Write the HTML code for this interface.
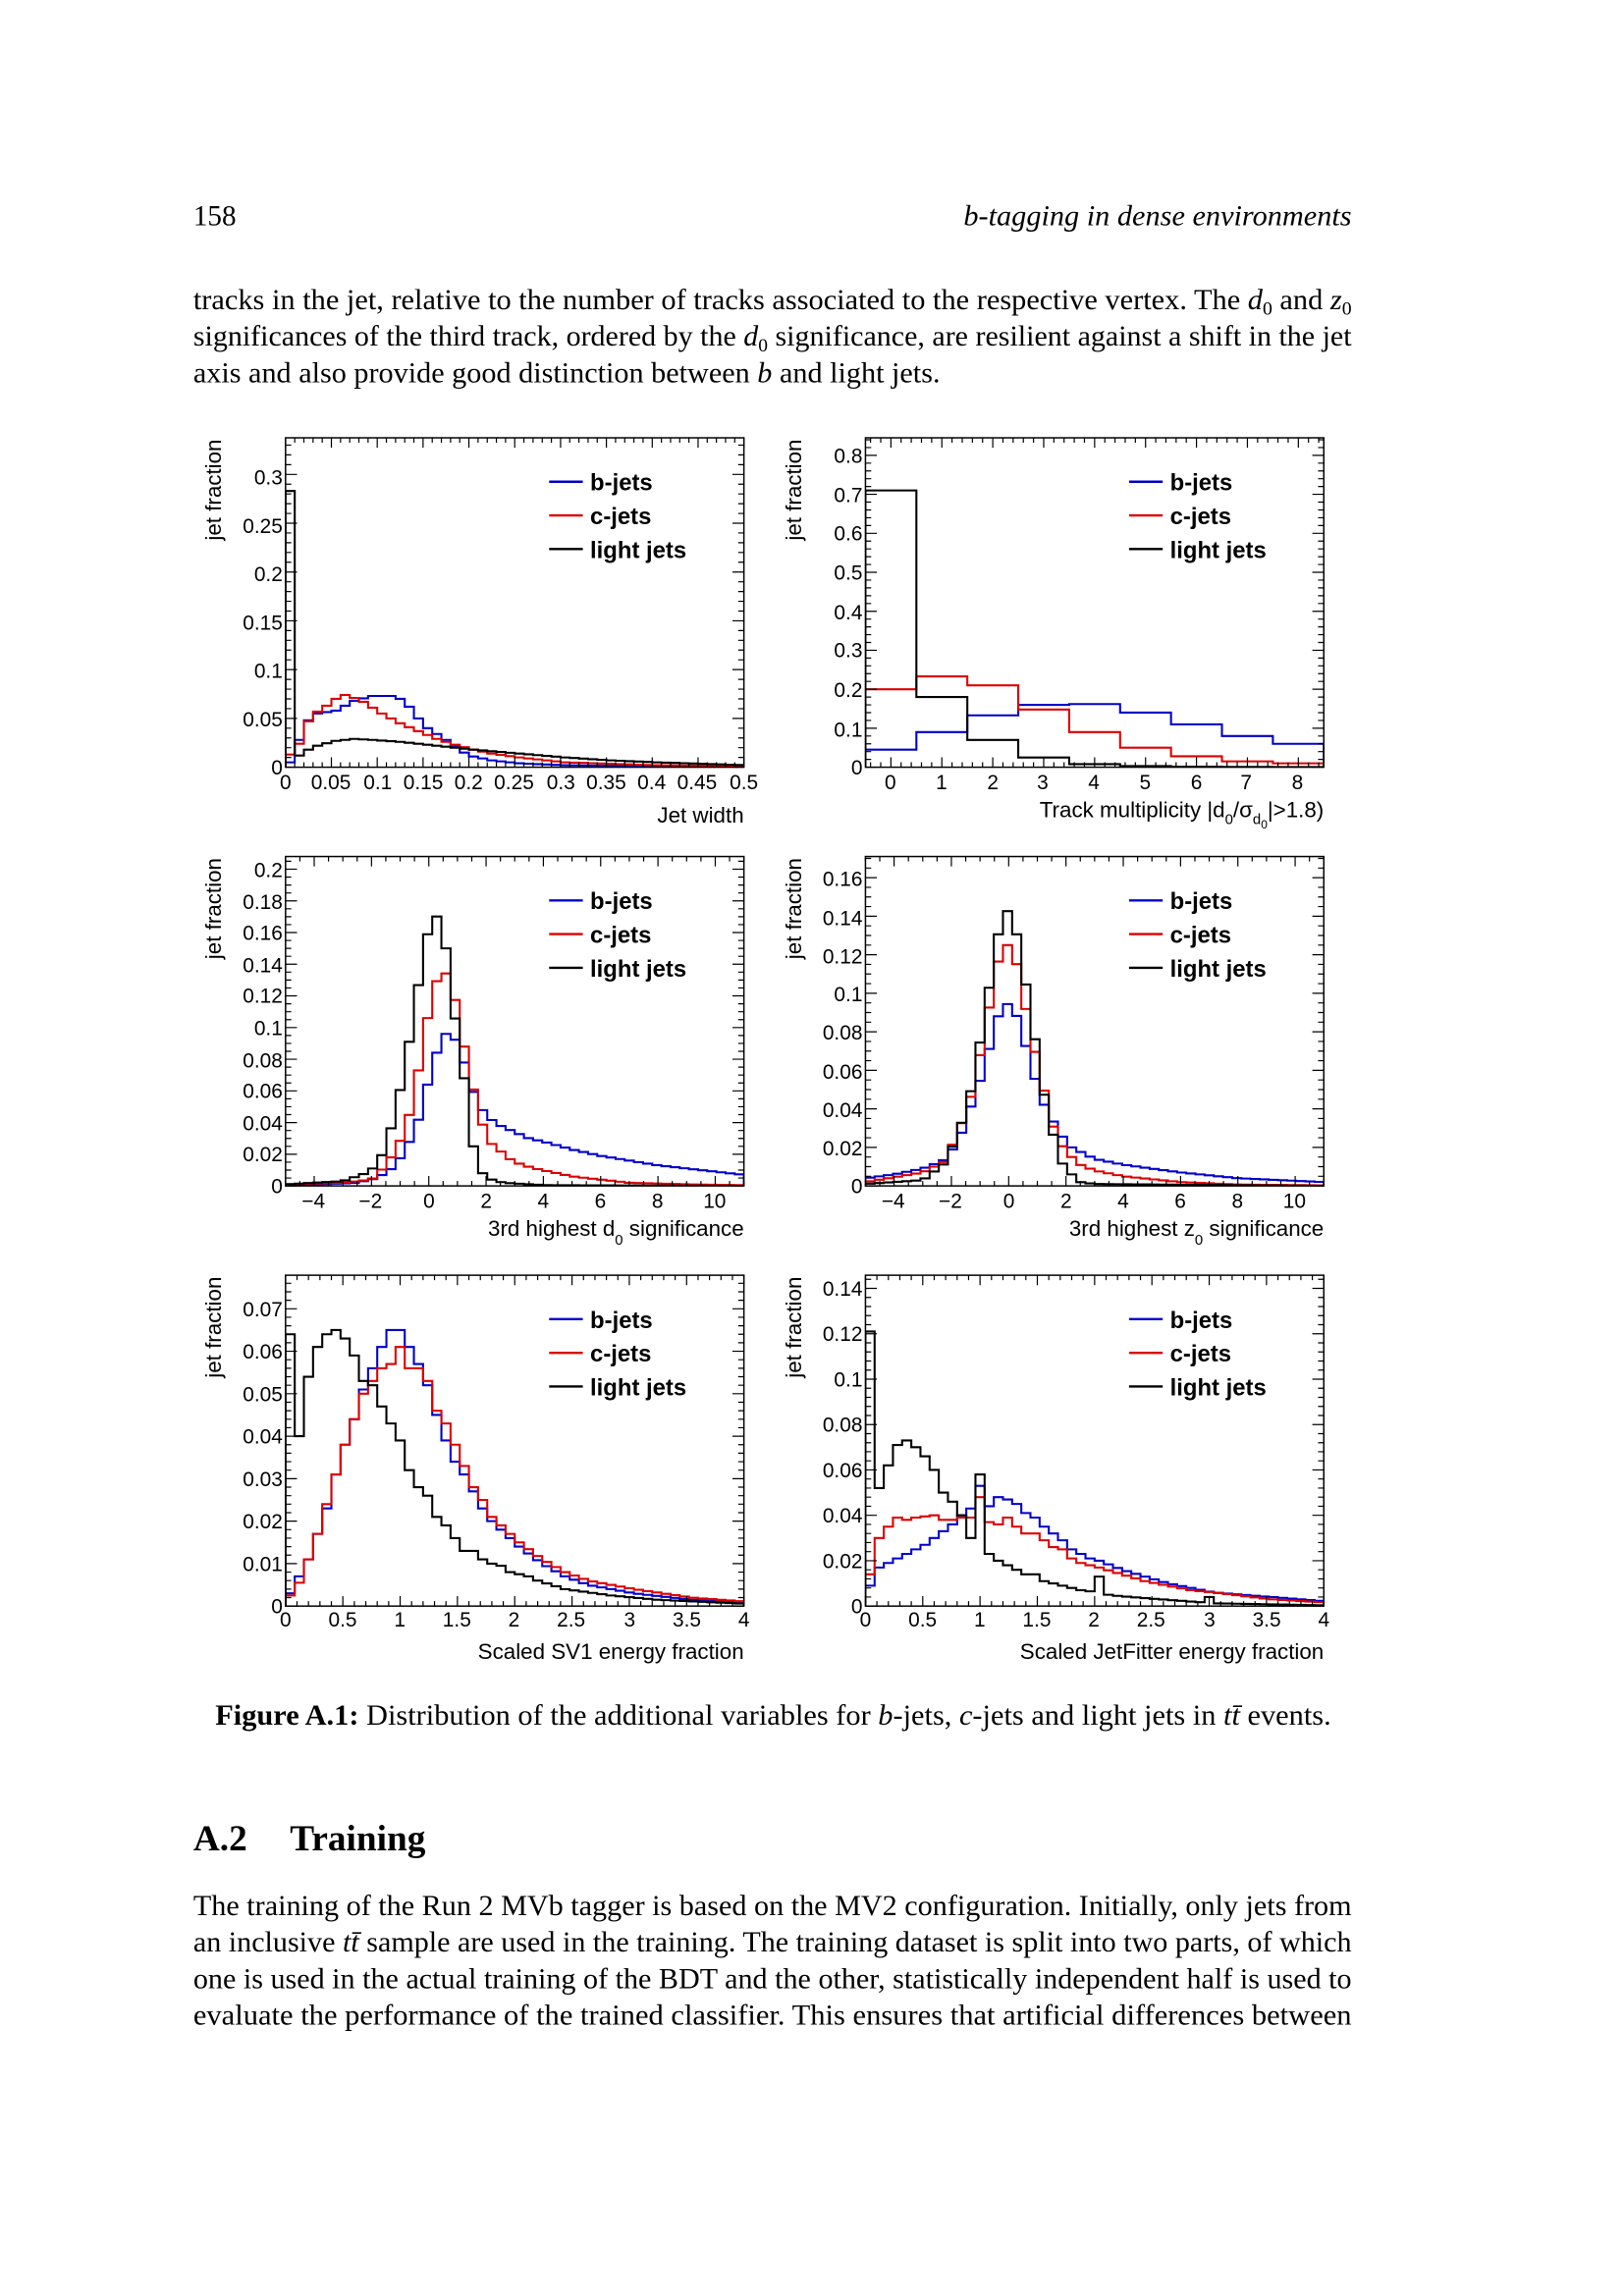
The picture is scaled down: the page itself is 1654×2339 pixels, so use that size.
<!DOCTYPE html>
<html><head><meta charset="utf-8"><style>
html,body{margin:0;padding:0;background:#fff}
svg{display:block}
.s{font-family:"Liberation Serif",serif;fill:#000}
.a{font-family:"Liberation Sans",sans-serif;fill:#000}
</style></head><body>
<svg id="sv" xmlns="http://www.w3.org/2000/svg" width="1654" height="2339" viewBox="0 0 1109 1568.2">
<rect width="1109" height="1568.2" fill="#fff"/>
<text class="s" x="132" y="154" font-size="19.5">158</text>
<text class="s" x="923" y="154" font-size="20" font-style="italic" text-anchor="end" textLength="265" lengthAdjust="spacingAndGlyphs">b-tagging in dense environments</text>
<text class="s" x="132" y="211" font-size="20" textLength="791" lengthAdjust="spacingAndGlyphs">tracks in the jet, relative to the number of tracks associated to the respective vertex. The <tspan font-style="italic">d</tspan><tspan font-size="13" dy="4">0</tspan><tspan dy="-4"> and </tspan><tspan font-style="italic">z</tspan><tspan font-size="13" dy="4">0</tspan></text>
<text class="s" x="132" y="236" font-size="20" textLength="791" lengthAdjust="spacingAndGlyphs">significances of the third track, ordered by the <tspan font-style="italic">d</tspan><tspan font-size="13" dy="4">0</tspan><tspan dy="-4"> significance, are resilient against a shift in the jet</tspan></text>
<text class="s" x="132" y="261" font-size="20" textLength="510" lengthAdjust="spacingAndGlyphs">axis and also provide good distinction between <tspan font-style="italic">b</tspan> and light jets.</text>

<g id="plots"></g>

<g class="a" font-size="15">
<text transform="translate(151,300) rotate(-90)" text-anchor="end">jet fraction</text>
<text transform="translate(547,300) rotate(-90)" text-anchor="end">jet fraction</text>
<text transform="translate(151,586) rotate(-90)" text-anchor="end">jet fraction</text>
<text transform="translate(547,586) rotate(-90)" text-anchor="end">jet fraction</text>
<text transform="translate(151,872) rotate(-90)" text-anchor="end">jet fraction</text>
<text transform="translate(547,872) rotate(-90)" text-anchor="end">jet fraction</text>
<text x="508" y="562" text-anchor="end">Jet width</text>
<text x="904" y="558" text-anchor="end">Track multiplicity |d<tspan font-size="10" dy="5">0</tspan><tspan dy="-5">/σ</tspan><tspan font-size="10" dy="5">d</tspan><tspan font-size="8" dy="3">0</tspan><tspan dy="-8">|&gt;1.8)</tspan></text>
<text x="508" y="844" text-anchor="end">3rd highest d<tspan font-size="10" dy="6">0</tspan><tspan dy="-6"> significance</tspan></text>
<text x="904" y="844" text-anchor="end">3rd highest z<tspan font-size="10" dy="6">0</tspan><tspan dy="-6"> significance</tspan></text>
<text x="508" y="1133" text-anchor="end">Scaled SV1 energy fraction</text>
<text x="904" y="1133" text-anchor="end">Scaled JetFitter energy fraction</text>
</g>
<g class="a" font-size="16" font-weight="bold">
<text x="403" y="335">b-jets</text><text x="403" y="358">c-jets</text><text x="403" y="381">light jets</text>
<text x="799" y="335">b-jets</text><text x="799" y="358">c-jets</text><text x="799" y="381">light jets</text>
<text x="403" y="621">b-jets</text><text x="403" y="644">c-jets</text><text x="403" y="667">light jets</text>
<text x="799" y="621">b-jets</text><text x="799" y="644">c-jets</text><text x="799" y="667">light jets</text>
<text x="403" y="907">b-jets</text><text x="403" y="930">c-jets</text><text x="403" y="953">light jets</text>
<text x="799" y="907">b-jets</text><text x="799" y="930">c-jets</text><text x="799" y="953">light jets</text>
</g>
<g class="a" font-size="14" id="ticklabels">
<g text-anchor="end"><text x="193" y="331">0.3</text><text x="193" y="364">0.25</text><text x="193" y="397">0.2</text><text x="193" y="430">0.15</text><text x="193" y="463">0.1</text><text x="193" y="496">0.05</text><text x="193" y="529">0</text></g>
<g text-anchor="middle"><text x="195" y="539">0</text><text x="226" y="539">0.05</text><text x="258" y="539">0.1</text><text x="289" y="539">0.15</text><text x="320" y="539">0.2</text><text x="351" y="539">0.25</text><text x="383" y="539">0.3</text><text x="414" y="539">0.35</text><text x="445" y="539">0.4</text><text x="476" y="539">0.45</text><text x="508" y="539">0.5</text></g>
<g text-anchor="end"><text x="589" y="316">0.8</text><text x="589" y="343">0.7</text><text x="589" y="369">0.6</text><text x="589" y="396">0.5</text><text x="589" y="423">0.4</text><text x="589" y="449">0.3</text><text x="589" y="476">0.2</text><text x="589" y="503">0.1</text><text x="589" y="529">0</text></g>
<g text-anchor="middle"><text x="608" y="539">0</text><text x="643" y="539">1</text><text x="678" y="539">2</text><text x="712" y="539">3</text><text x="747" y="539">4</text><text x="782" y="539">5</text><text x="817" y="539">6</text><text x="851" y="539">7</text><text x="886" y="539">8</text></g>
<g text-anchor="end"><text x="193" y="599">0.2</text><text x="193" y="621">0.18</text><text x="193" y="642">0.16</text><text x="193" y="664">0.14</text><text x="193" y="685">0.12</text><text x="193" y="707">0.1</text><text x="193" y="729">0.08</text><text x="193" y="750">0.06</text><text x="193" y="772">0.04</text><text x="193" y="793">0.02</text><text x="193" y="815">0</text></g>
<g text-anchor="middle"><text x="214" y="825">−4</text><text x="253" y="825">−2</text><text x="293" y="825">0</text><text x="332" y="825">2</text><text x="371" y="825">4</text><text x="410" y="825">6</text><text x="449" y="825">8</text><text x="488" y="825">10</text></g>
<g text-anchor="end"><text x="589" y="605">0.16</text><text x="589" y="632">0.14</text><text x="589" y="658">0.12</text><text x="589" y="684">0.1</text><text x="589" y="710">0.08</text><text x="589" y="737">0.06</text><text x="589" y="763">0.04</text><text x="589" y="789">0.02</text><text x="589" y="815">0</text></g>
<g text-anchor="middle"><text x="610" y="825">−4</text><text x="649" y="825">−2</text><text x="689" y="825">0</text><text x="728" y="825">2</text><text x="767" y="825">4</text><text x="806" y="825">6</text><text x="845" y="825">8</text><text x="884" y="825">10</text></g>
<g text-anchor="end"><text x="193" y="899">0.07</text><text x="193" y="928">0.06</text><text x="193" y="957">0.05</text><text x="193" y="986">0.04</text><text x="193" y="1015">0.03</text><text x="193" y="1044">0.02</text><text x="193" y="1073">0.01</text><text x="193" y="1102">0</text></g>
<g text-anchor="middle"><text x="195" y="1111">0</text><text x="234" y="1111">0.5</text><text x="273" y="1111">1</text><text x="312" y="1111">1.5</text><text x="351" y="1111">2</text><text x="390" y="1111">2.5</text><text x="430" y="1111">3</text><text x="469" y="1111">3.5</text><text x="508" y="1111">4</text></g>
<g text-anchor="end"><text x="589" y="885">0.14</text><text x="589" y="916">0.12</text><text x="589" y="947">0.1</text><text x="589" y="978">0.08</text><text x="589" y="1009">0.06</text><text x="589" y="1040">0.04</text><text x="589" y="1071">0.02</text><text x="589" y="1102">0</text></g>
<g text-anchor="middle"><text x="591" y="1111">0</text><text x="630" y="1111">0.5</text><text x="669" y="1111">1</text><text x="708" y="1111">1.5</text><text x="747" y="1111">2</text><text x="786" y="1111">2.5</text><text x="826" y="1111">3</text><text x="865" y="1111">3.5</text><text x="904" y="1111">4</text></g>
</g>

<text class="s" x="147" y="1178" font-size="20" textLength="762" lengthAdjust="spacingAndGlyphs"><tspan font-weight="bold">Figure A.1:</tspan> Distribution of the additional variables for <tspan font-style="italic">b</tspan>-jets, <tspan font-style="italic">c</tspan>-jets and light jets in <tspan font-style="italic">tt̄</tspan> events.</text>
<text class="s" x="132" y="1264" font-size="25" font-weight="bold">A.2</text>
<text class="s" x="198" y="1264" font-size="25" font-weight="bold">Training</text>
<text class="s" x="132" y="1308" font-size="20" textLength="791" lengthAdjust="spacingAndGlyphs">The training of the Run 2 MVb tagger is based on the MV2 configuration. Initially, only jets from</text>
<text class="s" x="132" y="1333" font-size="20" textLength="791" lengthAdjust="spacingAndGlyphs">an inclusive <tspan font-style="italic">tt̄</tspan> sample are used in the training. The training dataset is split into two parts, of which</text>
<text class="s" x="132" y="1358" font-size="20" textLength="791" lengthAdjust="spacingAndGlyphs">one is used in the actual training of the BDT and the other, statistically independent half is used to</text>
<text class="s" x="132" y="1383" font-size="20" textLength="791" lengthAdjust="spacingAndGlyphs">evaluate the performance of the trained classifier. This ensures that artificial differences between</text>
</svg>
<script>
(function(){
var NS="http://www.w3.org/2000/svg",G=document.getElementById("plots");
function el(t,a,p){var e=document.createElementNS(NS,t);for(var k in a)e.setAttribute(k,a[k]);(p||G).appendChild(e);return e;}
function interp(pts,x){if(x<=pts[0][0])return pts[0][1];for(var i=1;i<pts.length;i++){if(x<=pts[i][0]){var a=pts[i-1],b=pts[i];return a[1]+(b[1]-a[1])*(x-a[0])/(b[0]-a[0]);}}return pts[pts.length-1][1];}
var cid=0;
function panel(P){
 var x0=P.f[0],x1=P.f[1],y0=P.f[2],y1=P.f[3];
 var X=function(v){return x0+(v-P.xr[0])/(P.xr[1]-P.xr[0])*(x1-x0);};
 var Y=function(v){return y1-(v-P.yr[0])/(P.yr[1]-P.yr[0])*(y1-y0);};
 cid++;var cp=el("clipPath",{id:"c"+cid});el("rect",{x:x0,y:y0,width:x1-x0,height:y1-y0},cp);
 var g=el("g",{"clip-path":"url(#c"+cid+")"});
 P.h.forEach(function(h){
  var d="M"+X(h.e[0])+" "+Y(0);
  for(var i=0;i<h.v.length;i++){d+=" V"+Y(h.v[i]).toFixed(2)+" H"+X(h.e[i+1]).toFixed(2);}
  d+=" V"+Y(0);
  el("path",{d:d,fill:"none",stroke:h.c,"stroke-width":1.4},g);
 });
 el("rect",{x:x0,y:y0,width:x1-x0,height:y1-y0,fill:"none",stroke:"#000","stroke-width":1});
 var d="",L=(y1-y0)*0.03,l=L/2,Lx=(x1-x0)*0.025,lx=Lx/2;
 P.xt.forEach(function(t){var x=X(t[0]),len=t[1]?L:l;d+="M"+x+" "+y1+"v"+(-len)+"M"+x+" "+y0+"v"+len;});
 P.yt.forEach(function(t){var y=Y(t[0]),len=t[1]?Lx:lx;d+="M"+x0+" "+y+"h"+len+"M"+x1+" "+y+"h"+(-len);});
 el("path",{d:d,stroke:"#000","stroke-width":0.8,fill:"none"});
 var lx0=P.f[0]+180;
 [["#0000cc",0],["#dd0000",23],["#000",46]].forEach(function(c){el("line",{x1:lx0,x2:lx0+23,y1:y0+30+c[1],y2:y0+30+c[1],stroke:c[0],"stroke-width":1.6});});
}
function ticks(a,b,maj,nmin){var r=[],s=maj/nmin;var st=Math.ceil(a/s-1e-9)*s;for(var v=st;v<=b+1e-9;v+=s){var m=Math.abs(v/maj-Math.round(v/maj))<1e-6;r.push([v,m]);}return r;}
function bins(a,b,n){var e=[];for(var i=0;i<=n;i++)e.push(a+(b-a)*i/n);return e;}
function mk(pts,e,mode,over){var v=[];for(var i=0;i<e.length-1;i++){var x=mode=="c"?(e[i]+e[i+1])/2:e[i];v.push(interp(pts,x));}if(over)for(var k in over)v[k]=over[k];return v;}

var e1=bins(0,0.5,50);
panel({f:[195,508,299,524],xr:[0,0.5],yr:[0,0.3375],xt:ticks(0,0.5,0.05,5),yt:ticks(0,0.3375,0.05,5),h:[
{c:"#0000cc",e:e1,v:mk([[0,0.005],[0.01,0.028],[0.02,0.048],[0.03,0.055],[0.05,0.058],[0.07,0.068],[0.09,0.073],[0.11,0.073],[0.12,0.07],[0.13,0.062],[0.14,0.05],[0.15,0.04],[0.16,0.034],[0.17,0.028],[0.18,0.022],[0.19,0.015],[0.2,0.011],[0.22,0.007],[0.25,0.004],[0.3,0.002],[0.4,0.001],[0.5,0.0005]],e1)},
{c:"#dd0000",e:e1,v:mk([[0,0.013],[0.01,0.024],[0.02,0.047],[0.03,0.057],[0.04,0.063],[0.05,0.07],[0.06,0.074],[0.07,0.071],[0.08,0.067],[0.09,0.061],[0.1,0.055],[0.11,0.05],[0.12,0.045],[0.13,0.041],[0.14,0.037],[0.15,0.033],[0.16,0.029],[0.18,0.023],[0.2,0.018],[0.22,0.014],[0.25,0.01],[0.3,0.005],[0.4,0.002],[0.5,0.001]],e1)},
{c:"#000",e:e1,v:mk([[0,0.283],[0.01,0.012],[0.02,0.018],[0.03,0.022],[0.05,0.027],[0.07,0.029],[0.09,0.028],[0.12,0.026],[0.15,0.023],[0.2,0.018],[0.25,0.014],[0.3,0.01],[0.35,0.007],[0.4,0.005],[0.45,0.0035],[0.5,0.002]],e1,"s",{1:0.012})}]});
var e2=bins(-0.5,8.5,9);
panel({f:[591,904,299,524],xr:[-0.5,8.5],yr:[0,0.845],xt:ticks(-0.5,8.5,1,5),yt:ticks(0,0.845,0.1,5),h:[
{c:"#0000cc",e:e2,v:[0.045,0.09,0.133,0.16,0.162,0.14,0.11,0.08,0.06]},
{c:"#dd0000",e:e2,v:[0.2,0.233,0.21,0.148,0.09,0.05,0.028,0.015,0.01]},
{c:"#000",e:e2,v:[0.71,0.18,0.07,0.025,0.008,0.003,0.0015,0.0008,0.0004]}]});
var e3=bins(-5,11,50);
panel({f:[195,508,585,810],xr:[-5,11],yr:[0,0.208],xt:ticks(-5,11,2,4),yt:ticks(0,0.208,0.02,4),h:[
{c:"#0000cc",e:e3,v:mk([[-5,0],[-2.5,0.002],[-1.8,0.005],[-1.2,0.012],[-0.8,0.023],[-0.4,0.039],[-0.1,0.06],[0.25,0.083],[0.6,0.096],[0.95,0.092],[1.3,0.075],[1.6,0.057],[2,0.044],[2.5,0.038],[3,0.034],[3.5,0.03],[4,0.028],[5,0.023],[6,0.019],[7,0.016],[8,0.013],[9,0.011],[10,0.009],[11,0.007]],e3,"c")},
{c:"#dd0000",e:e3,v:mk([[-5,0.001],[-3,0.002],[-2,0.004],[-1.6,0.011],[-1.2,0.021],[-0.8,0.036],[-0.5,0.058],[-0.2,0.09],[0.1,0.12],[0.45,0.138],[0.8,0.129],[1.1,0.1],[1.45,0.07],[1.75,0.045],[2.1,0.028],[2.5,0.022],[2.9,0.016],[3.3,0.013],[3.7,0.011],[5,0.006],[7,0.002],[9,0.001],[11,0.0005]],e3,"c")},
{c:"#000",e:e3,v:mk([[-5,0.001],[-3,0.003],[-2.2,0.008],[-1.8,0.013],[-1.5,0.025],[-1.2,0.044],[-0.85,0.073],[-0.5,0.11],[-0.15,0.152],[0.2,0.174],[0.55,0.157],[0.9,0.108],[1.2,0.074],[1.5,0.029],[1.8,0.009],[2.2,0.004],[2.6,0.002],[4,0.0005],[11,0]],e3,"c")}]});
panel({f:[591,904,585,810],xr:[-5,11],yr:[0,0.171],xt:ticks(-5,11,2,4),yt:ticks(0,0.171,0.02,4),h:[
{c:"#0000cc",e:e3,v:mk([[-5,0.004],[-4,0.006],[-3,0.009],[-2.3,0.013],[-2,0.018],[-1.7,0.025],[-1.4,0.038],[-1.05,0.052],[-0.7,0.07],[-0.4,0.087],[-0.1,0.095],[0.2,0.092],[0.5,0.078],[0.8,0.062],[1.1,0.046],[1.5,0.035],[1.8,0.027],[2.2,0.02],[2.6,0.017],[3,0.014],[4,0.011],[6,0.007],[8,0.004],[11,0.002]],e3,"c")},
{c:"#dd0000",e:e3,v:mk([[-5,0.002],[-3,0.007],[-2.2,0.013],[-1.8,0.027],[-1.4,0.041],[-1.05,0.064],[-0.7,0.091],[-0.4,0.115],[-0.1,0.126],[0.2,0.121],[0.5,0.099],[0.85,0.074],[1.2,0.052],[1.5,0.033],[1.8,0.022],[2.2,0.015],[2.5,0.011],[3,0.008],[4,0.005],[6,0.002],[8,0.0007],[11,0.0003]],e3,"c")},
{c:"#000",e:e3,v:mk([[-5,0.001],[-3,0.003],[-2.2,0.012],[-1.8,0.026],[-1.4,0.043],[-1.05,0.07],[-0.7,0.101],[-0.4,0.129],[-0.05,0.143],[0.25,0.133],[0.55,0.109],[0.9,0.078],[1.2,0.05],[1.5,0.03],[1.8,0.013],[2.2,0.006],[2.5,0.002],[3,0.001],[11,0]],e3,"c")}]});
var e5=bins(0,4,50);
panel({f:[195,508,871,1097],xr:[0,4],yr:[0,0.0779],xt:ticks(0,4,0.5,5),yt:ticks(0,0.0779,0.01,5),h:[
{c:"#0000cc",e:e5,v:mk([[0,0.003],[0.08,0.007],[0.16,0.011],[0.24,0.017],[0.32,0.023],[0.4,0.031],[0.48,0.038],[0.56,0.044],[0.64,0.051],[0.72,0.056],[0.8,0.061],[0.88,0.065],[0.96,0.065],[1.04,0.061],[1.12,0.057],[1.2,0.052],[1.28,0.045],[1.36,0.039],[1.44,0.034],[1.52,0.031],[1.6,0.027],[1.68,0.023],[1.76,0.02],[1.84,0.018],[1.92,0.016],[2,0.014],[2.2,0.01],[2.4,0.007],[2.6,0.005],[3,0.003],[3.5,0.0015],[4,0.0007]],e5)},
{c:"#dd0000",e:e5,v:mk([[0,0.0025],[0.08,0.0055],[0.16,0.011],[0.24,0.017],[0.32,0.024],[0.4,0.031],[0.48,0.038],[0.56,0.044],[0.64,0.05],[0.72,0.053],[0.8,0.056],[0.88,0.057],[0.96,0.061],[1.04,0.056],[1.12,0.056],[1.2,0.053],[1.28,0.046],[1.36,0.043],[1.44,0.038],[1.52,0.033],[1.6,0.028],[1.68,0.025],[1.76,0.021],[1.84,0.019],[1.92,0.017],[2,0.015],[2.2,0.011],[2.4,0.008],[2.6,0.006],[3,0.004],[3.5,0.002],[4,0.001]],e5)},
{c:"#000",e:e5,v:mk([[0,0.064],[0.08,0.04],[0.16,0.054],[0.24,0.061],[0.32,0.064],[0.4,0.065],[0.48,0.063],[0.56,0.059],[0.64,0.053],[0.72,0.052],[0.8,0.047],[0.88,0.043],[0.96,0.039],[1.04,0.032],[1.12,0.028],[1.2,0.026],[1.28,0.021],[1.36,0.019],[1.44,0.016],[1.52,0.013],[1.6,0.013],[1.68,0.011],[1.76,0.01],[1.84,0.0095],[1.92,0.008],[2,0.0075],[2.08,0.007],[2.16,0.006],[2.4,0.004],[2.8,0.0025],[3.2,0.0015],[4,0.0005]],e5)}]});
panel({f:[591,904,871,1097],xr:[0,4],yr:[0,0.1458],xt:ticks(0,4,0.5,5),yt:ticks(0,0.1458,0.02,5),h:[
{c:"#0000cc",e:e5,v:mk([[0,0.009],[0.08,0.017],[0.16,0.019],[0.24,0.021],[0.32,0.023],[0.4,0.025],[0.48,0.027],[0.56,0.03],[0.64,0.033],[0.72,0.036],[0.8,0.04],[0.88,0.043],[0.96,0.044],[1.04,0.044],[1.12,0.048],[1.2,0.047],[1.28,0.045],[1.36,0.041],[1.44,0.039],[1.52,0.035],[1.6,0.032],[1.68,0.029],[1.76,0.025],[1.84,0.023],[1.92,0.021],[2,0.02],[2.2,0.016],[2.4,0.013],[2.6,0.01],[2.8,0.008],[3,0.006],[3.5,0.004],[4,0.002]],e5,"s",{12:0.053})},
{c:"#dd0000",e:e5,v:mk([[0,0.014],[0.08,0.03],[0.16,0.035],[0.24,0.039],[0.32,0.038],[0.4,0.039],[0.48,0.0395],[0.56,0.04],[0.64,0.038],[0.72,0.038],[0.8,0.039],[0.88,0.039],[0.96,0.039],[1.04,0.037],[1.12,0.036],[1.2,0.039],[1.28,0.035],[1.36,0.032],[1.44,0.032],[1.52,0.029],[1.6,0.026],[1.68,0.025],[1.76,0.021],[1.84,0.019],[2,0.017],[2.2,0.014],[2.4,0.011],[2.6,0.009],[2.8,0.007],[3,0.006],[3.5,0.003],[4,0.0015]],e5,"s",{12:0.048})},
{c:"#000",e:e5,v:mk([[0,0.121],[0.08,0.052],[0.16,0.062],[0.24,0.071],[0.32,0.073],[0.4,0.07],[0.48,0.066],[0.56,0.06],[0.64,0.05],[0.72,0.046],[0.8,0.04],[0.88,0.038],[0.96,0.03],[1.04,0.023],[1.12,0.02],[1.2,0.018],[1.28,0.016],[1.36,0.014],[1.44,0.014],[1.52,0.011],[1.6,0.01],[1.68,0.009],[1.76,0.008],[1.84,0.007],[1.92,0.0065],[2.08,0.005],[2.16,0.0045],[2.4,0.0035],[2.8,0.002],[3.04,0.0012],[4,0.0003]],e5,"s",{11:0.03,12:0.058,25:0.013,37:0.004})}]});
})();
</script>
</body></html>
